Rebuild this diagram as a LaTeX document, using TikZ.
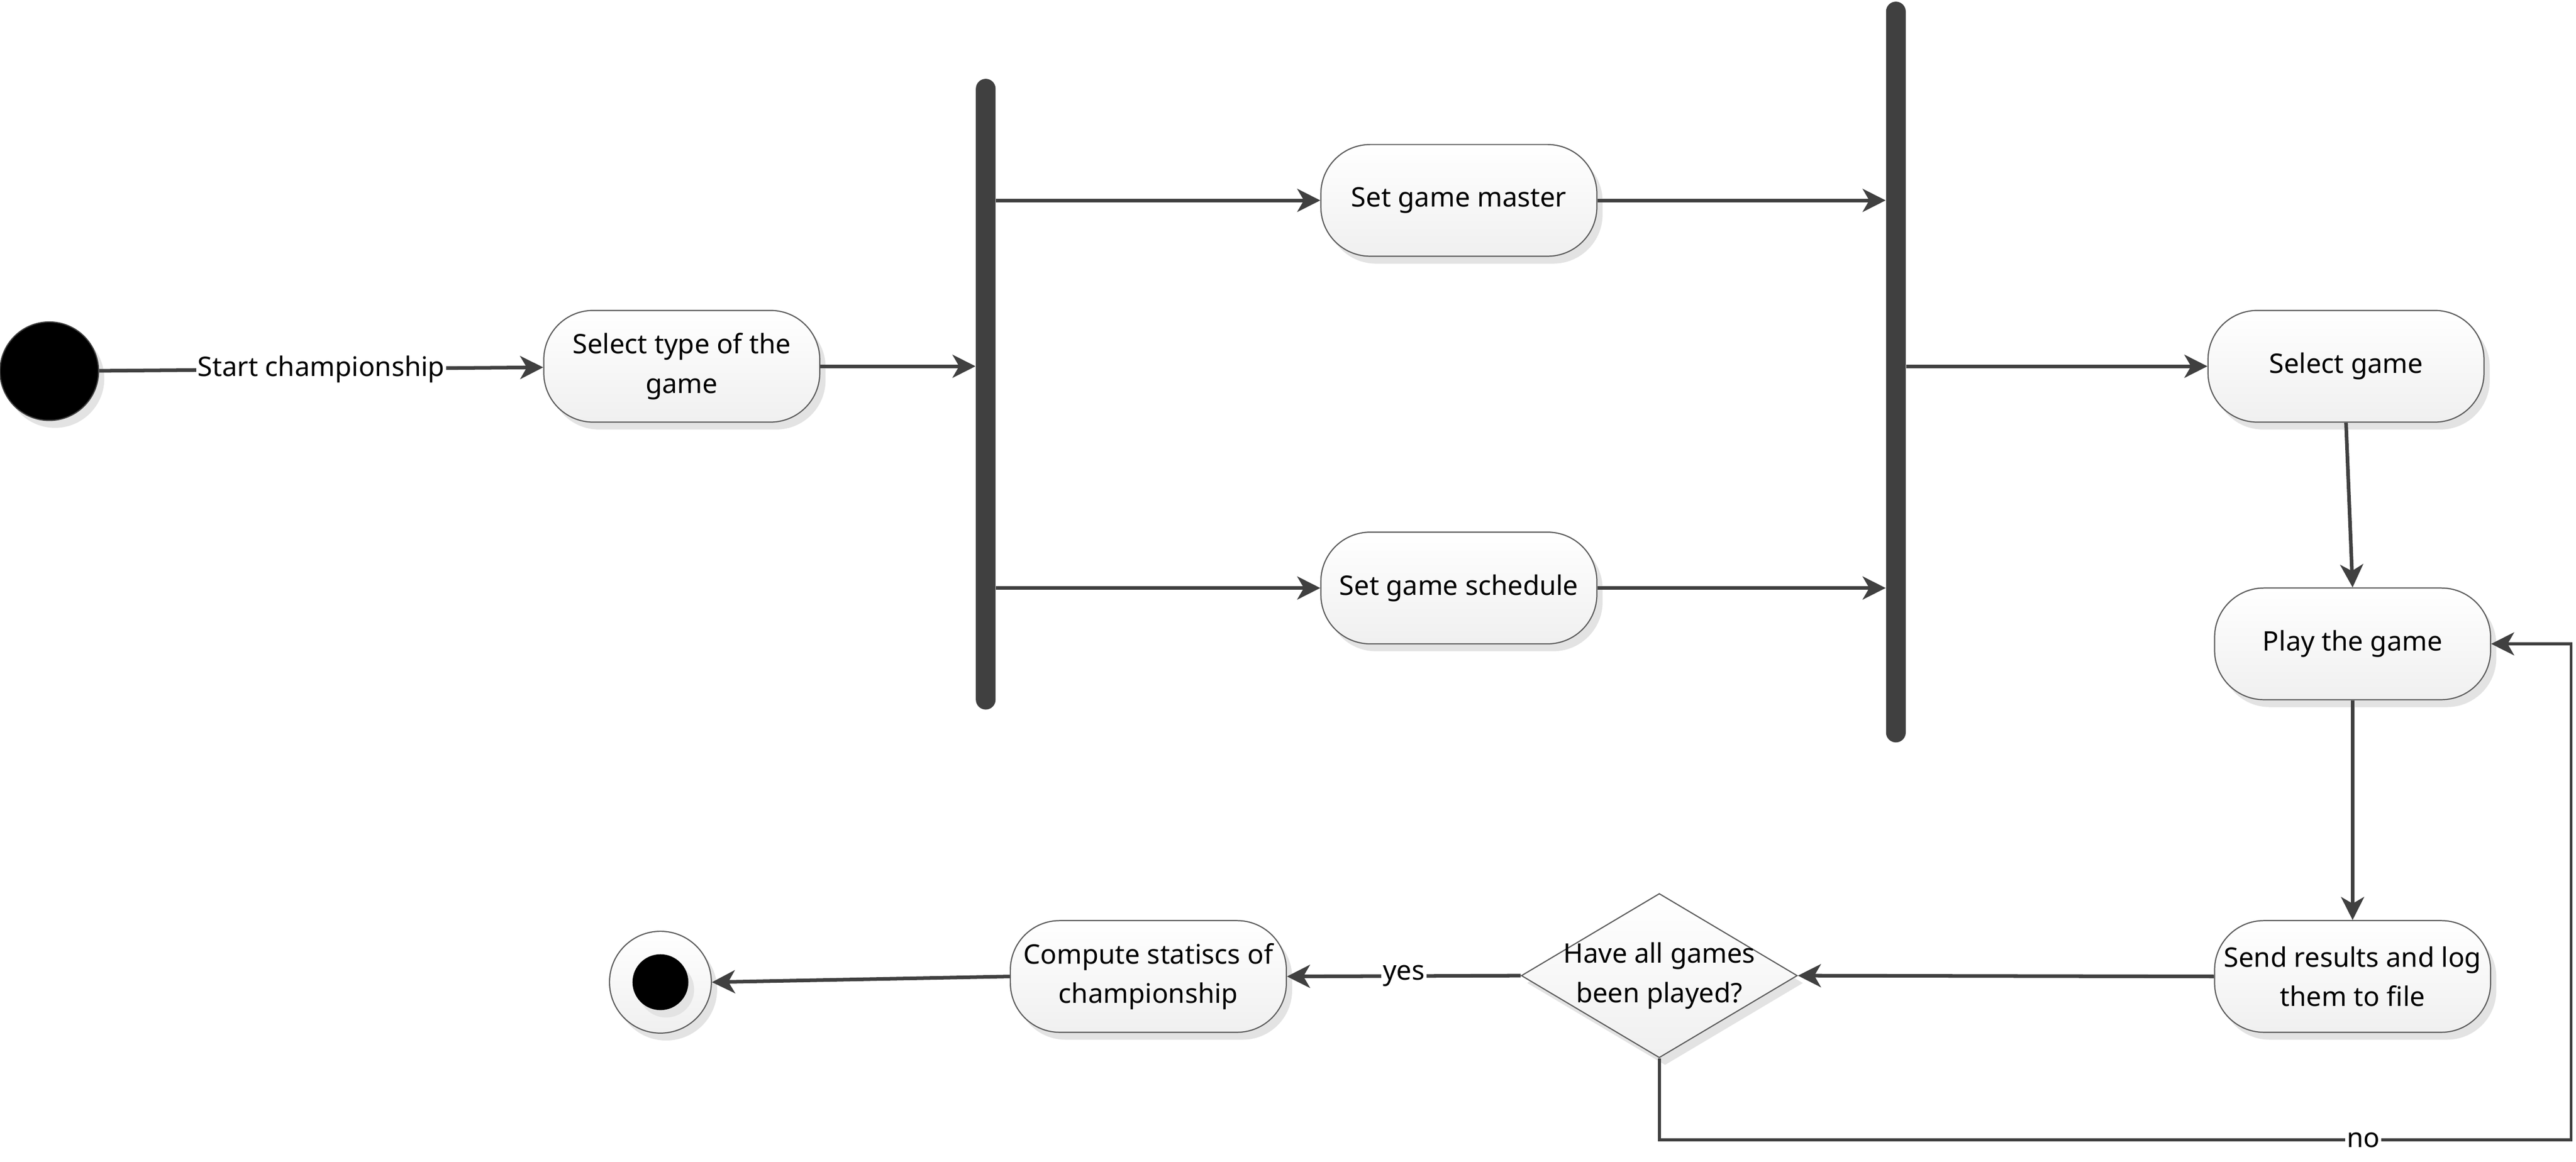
\documentclass[tikz,border=0pt]{standalone}
\usepackage{fontspec}
\setmainfont{Noto Sans}
\usetikzlibrary{shapes.geometric,arrows.meta,shadows}
\definecolor{lc}{HTML}{404040}
\definecolor{bc}{HTML}{5A5A5A}
\definecolor{shc}{HTML}{E3E3E3}
\begin{document}
\begin{tikzpicture}[
  txt/.style={font=\fontsize{16.4}{24}\selectfont, align=center},
  shad/.style={drop shadow={shadow xshift=3.5pt, shadow yshift=-4.5pt, fill=shc, opacity=1}},
  act/.style={txt, draw=bc, line width=0.7pt, rounded corners=30pt,
    top color=white, bottom color=black!6, minimum width=168pt,
    minimum height=68pt, inner sep=2pt, shad},
  dec/.style={diamond, draw=bc, line width=0.7pt, top color=white,
    bottom color=black!6, minimum width=168pt, minimum height=100pt,
    inner sep=0pt, shad},
  bar/.style={fill=lc, draw=none, minimum width=12pt, rounded corners=6pt, inner sep=0pt},
  flow/.style={draw=lc, line width=2.2pt, -{Stealth[length=14pt,width=14pt,inset=4pt]}},
  lab/.style={txt, fill=white, inner sep=1pt}
]
\useasboundingbox (0,0) rectangle (1568pt,-707.3pt);

\node[circle, fill=black, draw=lc, line width=0.7pt, minimum size=60pt, shad] (start) at (30pt,-226pt) {};
\node[act] (sel) at (415pt,-223pt) {Select type of the\\game};
\node[bar, minimum height=384pt] (bar1) at (600pt,-240pt) {};
\node[act] (gm) at (888pt,-122pt) {Set game master};
\node[act] (gs) at (888pt,-358pt) {Set game schedule};
\node[bar, minimum height=451pt] (bar2) at (1154pt,-226.5pt) {};
\node[act] (sg) at (1428pt,-223pt) {Select game};
\node[act] (pg) at (1432pt,-392pt) {Play the game};
\node[act] (sr) at (1432pt,-594.5pt) {Send results and log\\them to file};
\node[dec, label={[txt]center:Have all games\\been played?}] (dia) at (1010pt,-594pt) {};
\node[act] (cs) at (699pt,-594.5pt) {Compute statiscs of\\championship};
\node[circle, draw=bc, line width=0.7pt, top color=white, bottom color=black!6, minimum size=62pt, shad] (end) at (402pt,-598pt) {};
\node[circle, fill=black, minimum size=34pt, inner sep=0pt, shad] (endin) at (end) {};
\coordinate (lp) at (1565pt,-694pt);

\draw[flow] (start) -- node[lab]{Start championship} (sel);
\draw[flow] (sel.east) -- (sel.east -| bar1.west);
\draw[flow] (bar1.east |- gm.west) -- (gm.west);
\draw[flow] (bar1.east |- gs.west) -- (gs.west);
\draw[flow] (gm.east) -- (gm.east -| bar2.west);
\draw[flow] (gs.east) -- (gs.east -| bar2.west);
\draw[flow] (bar2.east |- sg.west) -- (sg.west);
\draw[flow] (sg.south) -- (pg.north);
\draw[flow] (pg.south) -- (sr.north);
\draw[flow] (sr.west) -- (dia.east);
\draw[flow] (dia.west) -- node[lab]{yes} (cs.east);
\draw[flow] (cs.west) -- (end.east);
\draw[flow, line width=1.8pt] (dia.south) |- node[lab, pos=0.886]{no} (lp) |- (pg.east);
\end{tikzpicture}
\end{document}
